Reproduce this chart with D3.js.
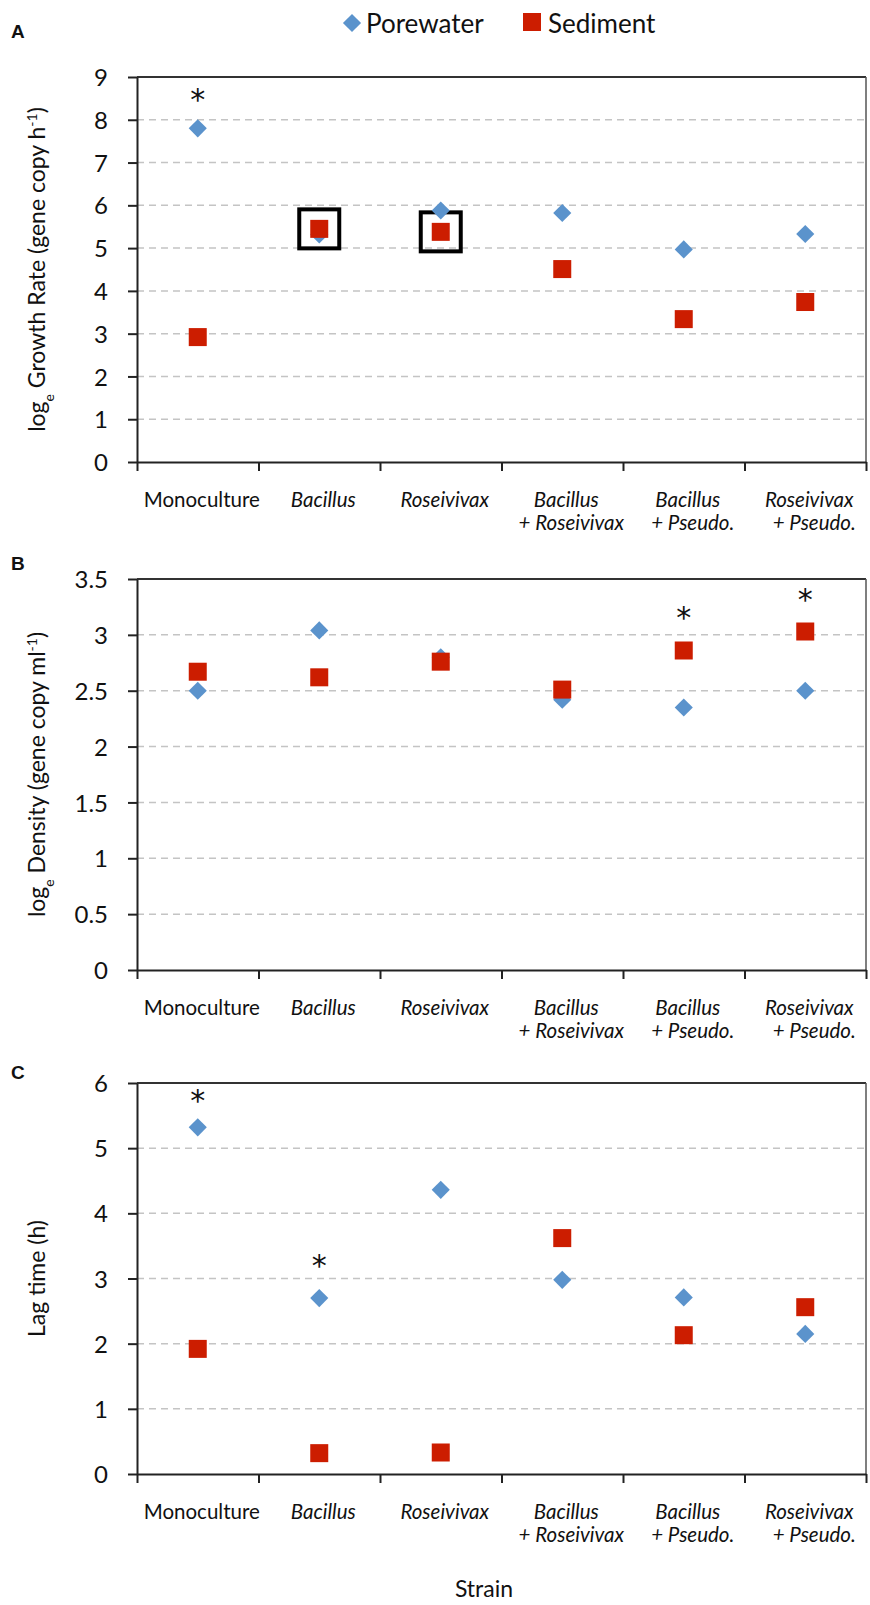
<!DOCTYPE html>
<meta charset="utf-8">
<head>
    <script src="https://cdn.jsdelivr.net/npm/d3@7"></script>
    <style>
        body { margin: 0; background: white; }
        text { font-family: Lato, "Open Sans", sans-serif; fill: #111; }
        .grid line { stroke: #c4c4c4; stroke-width: 1.5px; stroke-dasharray: 7,5; }
        .axis path, .axis line { stroke: #222; stroke-width: 2px; }
        .panel-label { font-family: "Liberation Sans", Arial, sans-serif; font-weight: bold; font-size: 19px; }
        .star { font-family: "DejaVu Sans", sans-serif; }
    </style>
</head>
<body>
<script type="text/javascript">

    // categories (x axis) and their label lines
    var strains = ["Monoculture", "Bacillus", "Roseivivax", "Bacillus + Roseivivax", "Bacillus + Pseudo.", "Roseivivax + Pseudo."];
    var strainLines = [["Monoculture"], ["Bacillus"], ["Roseivivax"], ["Bacillus", "+ Roseivivax"], ["Bacillus", "+ Pseudo."], ["Roseivivax", "+ Pseudo."]];

    // panel A - growth rate
    var growthPore = [7.8, 5.32, 5.88, 5.82, 4.97, 5.33];
    var growthSed = [2.92, 5.45, 5.38, 4.51, 3.34, 3.74];
    var growthStars = [[0, 8.65]];
    var growthBoxed = [1, 2];
    var growthTicks = [0, 1, 2, 3, 4, 5, 6, 7, 8, 9];

    // panel B - density
    var densityPore = [2.5, 3.04, 2.8, 2.42, 2.35, 2.5];
    var densitySed = [2.67, 2.62, 2.76, 2.51, 2.86, 3.03];
    var densityStars = [[4, 3.22], [5, 3.38]];
    var densityTicks = [0, 0.5, 1, 1.5, 2, 2.5, 3, 3.5];

    // panel C - lag time
    var lagPore = [5.32, 2.7, 4.36, 2.98, 2.71, 2.15];
    var lagSed = [1.92, 0.32, 0.33, 3.62, 2.13, 2.56];
    var lagStars = [[0, 5.84], [1, 3.31]];
    var lagTicks = [0, 1, 2, 3, 4, 5, 6];

    var width = 870;
    var height = 1605;
    var left = 137, right = 866;
    var blue = "#5b93cc", red = "#cc1d00";

    var svg = d3.select("body")
        .append("svg")
        .attr("width", width)
        .attr("height", height);

    var x = d3.scaleBand().domain(strains).range([left, right]);
    var xb = d3.scaleLinear().domain([0, strains.length]).range([left, right]);

    var panels = [
        {label: "A", top: 77, bottom: 462, max: 9, ticks: growthTicks, pore: growthPore, sed: growthSed,
            stars: growthStars, boxed: growthBoxed, title: ["log", "e", " Growth Rate (gene copy h", "-1", ")"]},
        {label: "B", top: 579, bottom: 970, max: 3.5, ticks: densityTicks, pore: densityPore, sed: densitySed,
            stars: densityStars, boxed: [], title: ["log", "e", " Density (gene copy ml", "-1", ")"]},
        {label: "C", top: 1083, bottom: 1474, max: 6, ticks: lagTicks, pore: lagPore, sed: lagSed,
            stars: lagStars, boxed: [], title: ["Lag time (h)"]}
    ];

    var diamond = d3.symbol().type(d3.symbolDiamond2).size(210);

    panels.forEach(function (p) {
        var y = d3.scaleLinear().domain([0, p.max]).range([p.bottom, p.top]);
        var g = svg.append("g");

        // grid lines
        g.append("g").attr("class", "grid")
            .selectAll("line")
            .data(p.ticks.filter(function (t) { return t > 0 && t < p.max; }))
            .enter().append("line")
            .attr("x1", left).attr("x2", right)
            .attr("y1", function (d) { return y(d); })
            .attr("y2", function (d) { return y(d); });

        // frame top and right
        g.append("line").attr("x1", left).attr("x2", right).attr("y1", p.top).attr("y2", p.top)
            .attr("stroke", "#333").attr("stroke-width", 2);
        g.append("line").attr("x1", right).attr("x2", right).attr("y1", p.top).attr("y2", p.bottom)
            .attr("stroke", "#555").attr("stroke-width", 1.5);

        // y axis
        var ya = g.append("g").attr("class", "axis")
            .attr("transform", "translate(" + left + ",0)")
            .call(d3.axisLeft(y).tickValues(p.ticks).tickSize(9).tickSizeOuter(0).tickPadding(20)
                .tickFormat(function (d) { return d; }));
        ya.selectAll("text").style("font-size", "24px").attr("dy", "0.36em");

        // x axis (ticks at category boundaries)
        g.append("g").attr("class", "axis")
            .attr("transform", "translate(0," + p.bottom + ")")
            .call(d3.axisBottom(xb).ticks(6).tickSize(9).tickSizeOuter(0).tickFormat(""));

        // category labels
        strains.forEach(function (s, i) {
            var cx = x(s) + x.bandwidth() / 2 + 4;
            strainLines[i].forEach(function (line, j) {
                g.append("text")
                    .attr("x", cx + (j === 1 ? 5 : 0))
                    .attr("y", p.bottom + 45 + j * 23)
                    .attr("text-anchor", "middle")
                    .style("font-size", "20.5px")
                    .style("font-style", i === 0 ? "normal" : "italic")
                    .text(line);
            });
        });

        // highlight boxes
        g.selectAll(".box")
            .data(p.boxed)
            .enter().append("rect")
            .attr("x", function (i) { return x(strains[i]) + x.bandwidth() / 2 - 20; })
            .attr("y", function (i) { return y(p.sed[i]) - 19.5; })
            .attr("width", 40).attr("height", 39)
            .attr("fill", "none").attr("stroke", "#000").attr("stroke-width", 4);

        // porewater diamonds
        g.selectAll(".pore")
            .data(p.pore)
            .enter().append("path")
            .attr("d", diamond)
            .attr("fill", blue)
            .attr("transform", function (d, i) {
                return "translate(" + (x(strains[i]) + x.bandwidth() / 2) + "," + y(d) + ")";
            });

        // sediment squares
        g.selectAll(".sed")
            .data(p.sed)
            .enter().append("rect")
            .attr("x", function (d, i) { return x(strains[i]) + x.bandwidth() / 2 - 9; })
            .attr("y", function (d) { return y(d) - 9; })
            .attr("width", 18).attr("height", 18)
            .attr("fill", red);

        // significance stars
        g.selectAll(".star")
            .data(p.stars)
            .enter().append("text")
            .attr("class", "star")
            .attr("x", function (d) { return x(strains[d[0]]) + x.bandwidth() / 2; })
            .attr("y", function (d) { return y(d[1]) + 18; })
            .attr("text-anchor", "middle")
            .style("font-size", "30px")
            .text("*");

        // y title
        var cy = (p.top + p.bottom) / 2;
        var t = g.append("text")
            .attr("transform", "translate(45," + cy + ") rotate(-90)")
            .attr("text-anchor", "middle")
            .style("font-size", "23px");
        p.title.forEach(function (part, k) {
            var ts = t.append("tspan").text(part);
            if (p.title.length > 1 && k === 1) ts.attr("baseline-shift", "sub").style("font-size", "14px");
            if (p.title.length > 1 && k === 3) ts.attr("baseline-shift", "super").style("font-size", "14px");
        });

        // panel letter
        g.append("text").attr("class", "panel-label")
            .attr("x", 11).attr("y", p.label === "A" ? 38 : (p.label === "B" ? 570 : 1079))
            .text(p.label);
    });

    // legend
    svg.append("path").attr("d", diamond).attr("fill", blue).attr("transform", "translate(352,23)");
    svg.append("text").attr("x", 366).attr("y", 33).style("font-size", "26px").text("Porewater");
    svg.append("rect").attr("x", 523).attr("y", 13).attr("width", 18).attr("height", 18).attr("fill", red);
    svg.append("text").attr("x", 548).attr("y", 33).style("font-size", "26px").text("Sediment");

    // x title
    svg.append("text")
        .attr("x", 484).attr("y", 1597)
        .attr("text-anchor", "middle")
        .style("font-size", "23px")
        .text("Strain");

</script>
</body>
</html>
